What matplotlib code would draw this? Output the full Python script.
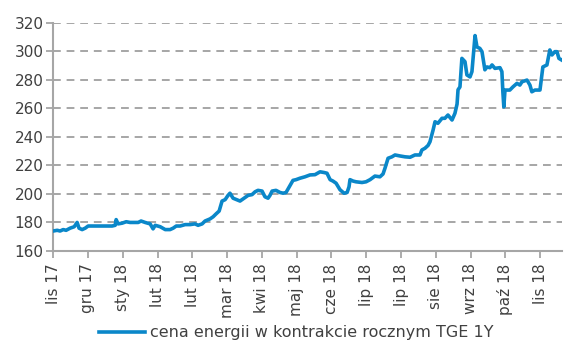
import matplotlib
matplotlib.use('Agg')
from matplotlib import pyplot as plt
import numpy as np

# trading-day index and price (PLN/MWh)
days = [0, 2.1, 3.6, 5.2, 6.7, 8.8, 10.9, 12.4, 13.4, 15.0, 16.6, 18.1, 21.7, 26.9,
        30.5, 32.1, 32.6, 33.6, 35.7, 37.8, 39.8, 44.0, 45.5, 47.6, 50.2, 51.7,
        52.8, 55.4, 58.0, 60.5, 62.1, 63.7, 65.7, 68.3, 70.9, 73.4, 75.0, 77.1,
        78.6, 81.2, 82.8, 84.3, 85.9, 87.4, 89.0, 90.5, 91.5, 93.1, 96.7, 98.8,
        100.9, 102.9, 104.5, 106.0, 108.1, 109.6, 111.2, 112.2, 113.3, 115.3,
        117.4, 119.0, 120.5, 122.6, 124.1, 125.7, 127.7, 130.3, 132.9, 135.5,
        138.1, 140.2, 141.7, 143.3, 144.8, 146.4, 148.4, 150.5, 152.1, 153.1,
        153.6, 155.2, 156.7, 159.8, 161.9, 164.0, 166.5, 169.1, 170.7, 171.7,
        173.3, 175.3, 176.9, 179.5, 182.1, 184.7, 187.2, 189.8, 190.8, 192.4,
        194.0, 195.0, 196.6, 197.6, 199.1, 201.2, 202.7, 204.3, 206.4, 207.9,
        209.0, 209.5, 210.5, 211.5, 213.1, 214.1, 215.7, 216.7, 218.3, 219.3,
        220.8, 221.9, 223.4, 224.5, 226.0, 227.1, 228.6, 231.2, 232.2, 232.7,
        233.2, 233.8, 236.3, 237.9, 240.0, 241.5, 242.6, 245.2, 246.7, 247.7,
        249.3, 251.9, 253.4, 255.5, 257.0, 258.1, 259.6, 260.7, 261.7, 263.2]
price = [174, 174.5, 174, 175, 174.5, 176, 177, 180, 176, 175, 176, 177.5, 177.5, 177.5,
         177.5, 178, 182, 179, 179.5, 180.5, 180, 180, 181, 180, 179, 175.5,
         178, 177, 175, 175, 176, 177.5, 177.5, 178.5, 178.5, 179, 178, 179,
         181, 182.5, 184, 186, 188, 195, 196, 199, 200.5, 197, 195, 197,
         199, 199.5, 201.5, 202.5, 202, 198, 197, 199, 202, 202.5,
         201, 200.5, 201, 206, 209.5, 210, 211, 212, 213.3, 213.5,
         215.5, 215, 214.5, 210, 209, 207.5, 203, 200.5, 201, 205,
         210, 209, 208.5, 208, 208.5, 210, 212.5, 212, 214, 218,
         225, 226, 227.3, 226.6, 226, 225.7, 227.3, 227.3, 230.8, 232,
         234, 236.6, 244.8, 250.6, 249.5, 253, 253, 255.3, 251.8, 256.5,
         263, 273, 275, 295, 292.7, 283.4, 282, 285.7, 311, 303,
         302, 299.7, 287, 289, 288.5, 290.4, 288, 288.5, 285.7, 271.6,
         261, 272.8, 272.8, 275, 277.5, 276.3, 278.6, 279.8, 276.3, 271.6,
         272.8, 272.8, 289, 290.4, 300.9, 297.4, 299.7, 299.7, 295, 293.8]

tick_labels = ['lis 17', 'gru 17', 'sty 18', 'lut 18', 'lut 18', 'mar 18', 'kwi 18',
               'maj 18', 'cze 18', 'lip 18', 'lip 18', 'sie 18', 'wrz 18', 'paź 18',
               'lis 18']
tick_step = 18
y_ticks = [160, 180, 200, 220, 240, 260, 280, 300, 320]

line_color = '#0A87C9'
axis_grey = '#A6A6A6'
text_grey = '#404040'

fig = plt.figure(figsize=(5.84, 3.55), dpi=100)
ax = fig.add_axes([0.091, 0.293, 0.871, 0.643])

ax.plot(days, price, color=line_color, lw=2.6, solid_joinstyle='round',
        label='cena energii w kontrakcie rocznym TGE 1Y', zorder=3)

ax.set_xlim(0, days[-1])
ax.set_ylim(160, 320)
ax.set_yticks(y_ticks)
ax.set_xticks([i * tick_step for i in range(len(tick_labels))])
ax.set_xticklabels(tick_labels, rotation=90)

for v in y_ticks[1:]:
    ax.axhline(v, color=axis_grey, lw=1.4, ls=(0, (4, 3)), zorder=1)

for s in ['top', 'right']:
    ax.spines[s].set_visible(False)
for s in ['left', 'bottom']:
    ax.spines[s].set_color(axis_grey)
    ax.spines[s].set_linewidth(1.5)
ax.tick_params(axis='both', colors=axis_grey, width=1.3, length=5,
               labelcolor=text_grey, labelsize=11)
ax.tick_params(axis='y', pad=2)
ax.tick_params(axis='x', pad=4)

fig.legend(loc='center', bbox_to_anchor=(0.507, 0.062), frameon=False,
           fontsize=11.5, handlelength=2.9, handletextpad=0.3,
           labelcolor=text_grey)

plt.savefig('out.png', dpi=100)
